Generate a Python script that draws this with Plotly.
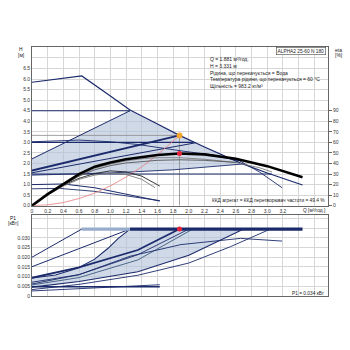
import plotly.graph_objects as go

# ---------------- data: top panel (H [m] vs Q [m3/h]) ----------------
q_max = [0, 0.3, 0.635, 0.95, 1.25, 1.6, 1.881, 2.2, 2.66, 3.0, 3.45]
h_max = [5.85, 6.0, 6.15, 5.33, 4.53, 3.87, 3.331, 2.78, 2.02, 1.55, 0.98]
q_cp45 = [0, 1.25]
h_cp45 = [4.5, 4.5]
q_pp_hi = [0, 1.25]
h_pp_hi = [2.22, 4.5]
q_cp30 = [0, 2.06]
h_cp30 = [3.0, 3.0]
q_cc = [0, 0.6, 1.0, 1.35, 1.9, 2.3, 2.65, 2.9, 3.19]
h_cc = [3.03, 3.11, 3.03, 2.9, 2.6, 2.4, 2.12, 1.6, 0.85]
q_pp_duty = [0, 1.881]
h_pp_duty = [1.67, 3.331]
q_pp_mid = [0, 2.085]
h_pp_mid = [1.56, 2.98]
q_pp_lo = [0, 1.0, 1.8, 2.7]
h_pp_lo = [1.45, 1.55, 1.7, 1.98]
q_cp15 = [0, 3.06]
h_cp15 = [1.5, 1.5]
q_min_a = [0, 0.4, 0.8, 1.2, 1.63]
h_min_a = [1.0, 1.03, 0.85, 0.55, 0.22]
q_min_b = [0, 0.35, 0.8, 1.2, 1.63]
h_min_b = [0.8, 0.82, 0.68, 0.48, 0.24]
q_sys = [0, 0.2, 0.4, 0.6, 0.8, 1.0, 1.2, 1.4, 1.6, 1.881]
h_sys = [0, 0.04, 0.15, 0.34, 0.6, 0.94, 1.36, 1.84, 2.41, 3.331]
q_shade = [0, 1.25, 1.6, 1.881, 2.2, 2.7, 1.8, 1.0, 0]
h_shade = [2.22, 4.5, 3.87, 3.331, 2.78, 1.98, 1.7, 1.55, 1.45]

duty_q = 1.881
duty_h = 3.331
duty_eta = 49.4
duty_p1 = 0.0345

# efficiency curves (eta [%])
q_eta = [0, 0.2, 0.4, 0.6, 0.8, 1.0, 1.2, 1.4, 1.6, 1.881, 2.2, 2.6, 3.0, 3.45]
eta_main = [0, 11, 20.5, 30, 37, 41, 44, 46.2, 48, 49.4, 48.6, 44.5, 37.5, 27]
q_eta_a = [0, 0.2, 0.4, 0.6, 0.8, 1.0, 1.2, 1.4, 1.63]
eta_a = [0, 10.5, 19.5, 26, 30.5, 33, 32, 28, 18.6]
q_eta_b = [0, 0.2, 0.4, 0.6, 0.8, 1.0, 1.2, 1.4, 1.57]
eta_b = [0, 10, 18.5, 25, 29, 31, 29.5, 25, 17]
q_eta_c = [0, 0.2, 0.4, 0.6, 0.8, 1.0, 1.2, 1.4, 1.6, 1.881, 2.2, 2.6, 2.9, 3.06]
eta_c = [0, 10.8, 20, 29, 35.5, 39.5, 42.5, 44.5, 45.5, 45.5, 44, 41, 36, 32]
q_eta_d = [0, 0.2, 0.4, 0.6, 0.8, 1.0, 1.2, 1.4, 1.6, 1.881, 2.2, 2.6]
eta_d = [0, 10.5, 19.5, 28, 34, 38, 40.5, 42, 43, 43.5, 43, 41]

# ---------------- data: bottom panel (P1 [kW]) ----------------
q_p_max = [0, 0.635]
p_p_max = [0.0200, 0.0345]
q_p_flat_a = [0.635, 1.25]
p_p_flat_a = [0.0345, 0.0345]
q_p_flat_b = [1.25, 3.45]
p_p_flat_b = [0.0345, 0.0345]
q_p_cp45 = [0, 1.25]
p_p_cp45 = [0.0151, 0.0345]
q_p_edge = [0, 0.3, 0.58, 0.8, 0.97, 1.1, 1.25]
p_p_edge = [0.0093, 0.0108, 0.0143, 0.019, 0.0246, 0.0297, 0.0345]
q_p_duty = [0, 0.6, 1.35, 1.881]
p_p_duty = [0.0094, 0.0148, 0.0237, 0.0345]
q_p_b = [0, 0.6, 1.35, 2.0]
p_p_b = [0.0071, 0.011, 0.0213, 0.0345]
q_p_c = [0, 0.6, 1.35, 2.05]
p_p_c = [0.0057, 0.0095, 0.0186, 0.0345]
q_p_cc = [0, 0.6, 1.25, 1.9, 2.66, 3.19]
p_p_cc = [0.0062, 0.011, 0.0205, 0.0265, 0.0297, 0.0283]
q_p_lo = [0, 0.6, 1.35, 2.0, 2.7]
p_p_lo = [0.0046, 0.0075, 0.0125, 0.021, 0.0345]
q_p_f = [0, 0.6, 1.35, 2.0, 2.53, 3.04]
p_p_f = [0.0033, 0.006, 0.0107, 0.017, 0.0254, 0.0345]
q_p_h = [0, 1.63]
p_p_h = [0.0048, 0.0048]
q_p_g = [0, 0.8, 1.63]
p_p_g = [0.0026, 0.0042, 0.0058]
q_pshade = [0, 0.3, 0.58, 0.8, 0.97, 1.1, 1.25, 2.7, 2.0, 1.35, 0.6, 0]
p_pshade = [0.0093, 0.0108, 0.0143, 0.019, 0.0246, 0.0297, 0.0345, 0.0345, 0.021, 0.0125, 0.0075, 0.0046]

# ticks
q_ticks = [round(0.2 * i, 1) for i in range(19)]
q_ticktext = ["0", "0.2", "0.4", "0.6", "0.8", "1.0", "1.2", "1.4", "1.6", "1.8", "2.0",
              "2.2", "2.4", "2.6", "2.8", "3.0", "3.2", "", ""]
h_ticks = [0.5 * i for i in range(16)]
h_ticktext = ["0.0", "0.5", "1.0", "1.5", "2.0", "2.5", "3.0", "3.5", "4.0", "4.5",
              "5.0", "5.5", "6.0", "6.5", "", ""]
eta_ticks = [0, 10, 20, 30, 40, 50, 60, 70, 80, 90]
p_ticks = [0, 0.005, 0.010, 0.015, 0.020, 0.025, 0.030, 0.035, 0.040]
p_ticktext = ["0", "0.005", "0.010", "0.015", "0.020", "0.025", "0.030", "", ""]

NAVY = "#1b2a6b"
GREY = "#7c7c7c"
GRID = "#d6d6d6"
AX = "#666666"
FONT = "Liberation Sans"

fig = go.Figure()


def line(x, y, color=NAVY, width=1.0, xa="x", ya="y"):
    fig.add_trace(go.Scatter(x=x, y=y, mode="lines", line=dict(color=color, width=width),
                             xaxis=xa, yaxis=ya, hoverinfo="skip"))


# shaded regions
fig.add_trace(go.Scatter(x=q_shade, y=h_shade, fill="toself", fillcolor="rgba(176,192,216,0.6)",
                         line=dict(width=0), mode="lines", xaxis="x", yaxis="y", hoverinfo="skip"))
fig.add_trace(go.Scatter(x=q_pshade, y=p_pshade, fill="toself", fillcolor="rgba(176,192,216,0.6)",
                         line=dict(width=0), mode="lines", xaxis="x2", yaxis="y3", hoverinfo="skip"))

# top panel curves
line([0, duty_q], [duty_h, duty_h], color="#8a8a8a", width=0.8)
line([duty_q, duty_q], [0, duty_h], color="#8a8a8a", width=0.8)
line(q_max, h_max, width=1.2)
line(q_cp45, h_cp45, width=1.2)
line(q_pp_hi, h_pp_hi)
line(q_cp30, h_cp30, width=1.2)
line(q_cc, h_cc, width=0.9)
line(q_pp_mid, h_pp_mid)
line(q_pp_lo, h_pp_lo, width=0.9)
line(q_cp15, h_cp15, width=1.1)
line(q_min_a, h_min_a)
line(q_min_b, h_min_b, width=0.9)
line(q_pp_duty, h_pp_duty, width=2.0)
line(q_sys, h_sys, color="#e77b7b", width=0.8)

# efficiency curves on right axis
line(q_eta_a, eta_a, color="#222222", width=0.9, ya="y2")
line(q_eta_b, eta_b, color=GREY, width=0.9, ya="y2")
line(q_eta_c, eta_c, color=GREY, width=0.9, ya="y2")
line(q_eta_d, eta_d, color="#555555", width=0.9, ya="y2")
line(q_eta, eta_main, color="#000000", width=2.6, ya="y2")

fig.add_trace(go.Scatter(x=[duty_q], y=[duty_h], mode="markers",
                         marker=dict(color="#f2a531", size=6, line=dict(width=0)),
                         xaxis="x", yaxis="y", hoverinfo="skip"))
fig.add_trace(go.Scatter(x=[duty_q], y=[duty_eta], mode="markers",
                         marker=dict(color="#e8243a", size=5, line=dict(width=0)),
                         xaxis="x", yaxis="y2", hoverinfo="skip"))

# bottom panel curves
line(q_p_max, p_p_max, xa="x2", ya="y3")
line(q_p_cp45, p_p_cp45, xa="x2", ya="y3")
line(q_p_edge, p_p_edge, xa="x2", ya="y3", width=1.1)
line(q_p_b, p_p_b, xa="x2", ya="y3", width=0.9)
line(q_p_c, p_p_c, xa="x2", ya="y3", width=0.9, color="#3b5a7a")
line(q_p_cc, p_p_cc, xa="x2", ya="y3", width=0.9)
line(q_p_lo, p_p_lo, xa="x2", ya="y3", width=1.1)
line(q_p_f, p_p_f, xa="x2", ya="y3", width=0.9)
line(q_p_h, p_p_h, xa="x2", ya="y3", width=1.6)
line(q_p_g, p_p_g, xa="x2", ya="y3", width=0.9)
line(q_p_duty, p_p_duty, xa="x2", ya="y3", width=1.8)
line(q_p_flat_a, p_p_flat_a, color="#9aaccb", width=3.2, xa="x2", ya="y3")
line(q_p_flat_b, p_p_flat_b, color=NAVY, width=3.2, xa="x2", ya="y3")
fig.add_trace(go.Scatter(x=[duty_q], y=[duty_p1], mode="markers",
                         marker=dict(color="#e8243a", size=5, line=dict(width=0)),
                         xaxis="x2", yaxis="y3", hoverinfo="skip"))

# geometry helpers (margins l=32 r=22 t=47 b=54)
L, R, T, B = 32, 22, 47, 54
PW, PH = 350 - L - R, 350 - T - B


def px(x):
    return (x - L) / PW


def py(y):
    return (350 - B - y) / PH


top_dom = [py(205.7), 1.0]
bot_dom = [0.0, py(215)]
tickfont = dict(size=5, color="#333333", family=FONT)

axis_common = dict(showgrid=True, gridcolor=GRID, gridwidth=0.6, showline=True, linecolor=AX,
                   linewidth=0.8, mirror=True, zeroline=False, tickfont=tickfont, ticks="")

fig.update_layout(
    width=350, height=350, margin=dict(l=L, r=R, t=T, b=B),
    paper_bgcolor="white", plot_bgcolor="white", showlegend=False,
    font=dict(family=FONT, size=5, color="#333333"),
    xaxis=dict(domain=[0, 1], range=[0, 3.775], anchor="y", tickmode="array",
               tickvals=q_ticks, ticktext=q_ticktext, **axis_common),
    yaxis=dict(domain=top_dom, range=[0, 7.52], anchor="x", tickmode="array",
               tickvals=h_ticks, ticktext=h_ticktext, **axis_common),
    yaxis2=dict(overlaying="y", side="right", anchor="x", range=[0, 150.4], tickmode="array",
                tickvals=eta_ticks, showgrid=False, zeroline=False, showline=False,
                ticks="outside", ticklen=3, tickcolor=AX, tickwidth=0.6, tickfont=tickfont),
    xaxis2=dict(domain=[0, 1], range=[0, 3.775], anchor="y3", tickmode="array",
                tickvals=q_ticks, showticklabels=False, **axis_common),
    yaxis3=dict(domain=bot_dom, range=[0, 0.04175], anchor="x2", tickmode="array",
                tickvals=p_ticks, ticktext=p_ticktext, **axis_common),
)

ann = []


def text(t, x, y, xanchor="left", size=5, **kw):
    ann.append(dict(text=t, x=px(x), y=py(y), xref="paper", yref="paper", xanchor=xanchor,
                    yanchor="middle", showarrow=False, font=dict(size=size, color="#222222", family=FONT), **kw))


text("H", 21, 49, "center")
text("[м]", 21, 55, "center")
text("eta", 339, 50, "center")
text("[%]", 339, 55, "center")
text("ALPHA2 25-60 N 180", 300.5, 51, "center", size=4.8, bordercolor="#444444", borderwidth=0.6,
     borderpad=1, bgcolor="white")
info = ["Q = 1.881 м³/год.", "H = 3.331 м", "Рідина, що перекачується = Вода",
        "Температура рідини, що перекачується = 60 °C", "Щільність = 983.2 кг/м³"]
for i, t in enumerate(info):
    text(t, 208, 59.5 + 6.6 * i, "left", size=5)
text("ККД агрегат = ККД перетворювач частоти = 49.4 %", 327, 201, "right", size=4.8)
text("Q [м³/год.]", 327, 210.5, "right", size=4.8)
text("P1", 13, 218, "center")
text("[кВт]", 13, 223.5, "center")
text("P1 = 0.034 кВт", 327, 293, "right", size=4.8)
fig.update_layout(annotations=ann)

fig.write_html("out.html")
